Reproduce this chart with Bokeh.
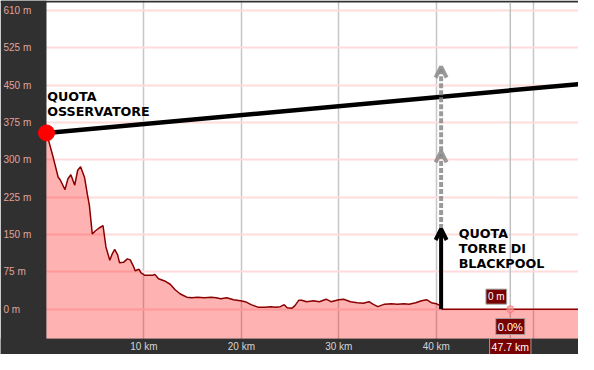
from bokeh.plotting import figure
from bokeh.models import Range1d, FixedTicker, Label, Arrow, OpenHead, Grid
from bokeh.core.properties import value
from bokeh.embed import file_html
from bokeh.resources import INLINE

# ---------------- data ----------------
dist_km = [0.0, 0.2, 0.7, 1.2, 1.4, 1.9, 2.2, 2.5, 2.9, 3.2,
           3.5, 3.9, 4.2, 4.4, 4.7, 5.0, 5.4, 5.8, 6.1, 6.5,
           6.7, 7.0, 7.3, 7.5, 7.9, 8.3, 8.6, 8.9, 9.1, 9.5,
           9.7, 10.1, 10.9, 11.1, 11.5, 12.2, 12.7, 13.2, 13.7, 14.0,
           14.4, 14.9, 15.5, 16.2, 16.9, 17.4, 17.9, 18.5, 19.2, 19.9,
           20.4, 21.0, 21.7, 22.4, 23.0, 23.5, 24.0, 24.4, 24.7, 25.2,
           25.5, 25.9, 26.2, 26.7, 27.4, 28.0, 28.7, 29.2, 30.0, 30.5,
           31.2, 31.9, 32.5, 33.1, 33.5, 34.0, 34.7, 35.4, 36.0, 36.7,
           37.2, 37.9, 38.5, 39.0, 39.5, 40.0, 40.4, 40.6, 54.6]
elev_m = [354, 340, 304, 265, 260, 240, 262, 270, 249, 279,
          286, 265, 230, 209, 151, 157, 163, 168, 125, 98,
          109, 120, 109, 93, 94, 101, 99, 87, 77, 80,
          73, 68, 68, 70, 61, 56, 50, 39, 31, 28,
          24, 23, 24, 23, 24, 23, 21, 23, 19, 17,
          15, 9, 4, 4, 5, 4, 5, 9, 3, 2,
          7, 18, 18, 15, 17, 15, 20, 15, 19, 20,
          15, 13, 12, 15, 10, 5, 10, 11, 10, 11,
          10, 13, 17, 19, 13, 11, 7, 0, 0]

y_ticks = [0, 75, 150, 225, 300, 375, 450, 525, 600]
y_tick_labels = ["0 m", "75 m", "150 m", "225 m", "300 m", "375 m", "450 m", "525 m", "610 m"]
x_label_ticks = [10, 20, 30, 40]
x_tick_labels = ["10 km", "20 km", "30 km", "40 km"]
x_grid_ticks = [10, 20, 30, 40, 50]

# profile area limits and the dark frame around it
plot_x_min, plot_x_max = 0.0, 54.6
plot_y_min, plot_y_max = -59, 616
x_start, x_end = -4.72, 54.6
y_start, y_end = -91.1, 620

observer_km, observer_m = 0.0, 354
sightline_km = [0.0, 54.6]
sightline_m = [354, 452]

tower_km = 40.5
tower_base_m = 0
tower_top_m = 161
dashed_mid_m = 317
dashed_top_m = 487

cursor_km = 47.6
cursor_elev_m = 0
cursor_elev_text = "0 m"
cursor_grade_text = "0.0%"
cursor_dist_text = "47.7 km"

observer_text = "QUOTA\nOSSERVATORE"
tower_text = "QUOTA\nTORRE DI\nBLACKPOOL"

dark = "#303030"

# ---------------- figure ----------------
p = figure(width=578, height=354, output_backend="svg", toolbar_location=None,
           x_range=Range1d(x_start, x_end), y_range=Range1d(y_start, y_end),
           x_axis_location=None, y_axis_location=None, min_border=0)
p.background_fill_color = "white"
p.border_fill_color = dark
p.outline_line_color = None
p.center = [r for r in p.center if not isinstance(r, Grid)]

p.add_layout(Grid(dimension=0, ticker=FixedTicker(ticks=x_grid_ticks),
                  grid_line_color="#c6c6c6", grid_line_width=1.5))
p.add_layout(Grid(dimension=1, ticker=FixedTicker(ticks=y_ticks),
                  grid_line_color="#ffdcdc", grid_line_width=2))

# dark panels (left axis panel, bottom axis bar, top strip)
p.quad(left=[x_start], right=[plot_x_min], bottom=[y_start], top=[y_end],
       fill_color=dark, line_color=None)
p.quad(left=[x_start], right=[x_end], bottom=[y_start], top=[plot_y_min],
       fill_color=dark, line_color=None)
p.quad(left=[x_start], right=[x_end], bottom=[plot_y_max], top=[y_end],
       fill_color=dark, line_color=None)

# tick labels
p.text(x=[x_start] * len(y_ticks), y=y_ticks, text=y_tick_labels, x_offset=3,
       text_align="left", text_baseline="middle", text_color="#e0a39c",
       text_font=value("Liberation Sans"), text_font_size="10px")
p.text(x=x_label_ticks, y=[(y_start + plot_y_min) / 2] * len(x_label_ticks), text=x_tick_labels,
       text_align="center", text_baseline="middle", text_color="#d4d4d4",
       text_font=value("Liberation Sans"), text_font_size="10px")

# crosshair
p.segment(x0=[cursor_km], y0=[plot_y_min], x1=[cursor_km], y1=[plot_y_max],
          line_color="#c0c0c0", line_width=1.5)

# profile
p.varea(x=dist_km, y1=plot_y_min, y2=elev_m, fill_color="#ff0000", fill_alpha=0.3)
p.line(dist_km, elev_m, line_color="#8b0000", line_width=1.5)

# line of sight
p.line(sightline_km, sightline_m, line_color="black", line_width=4.5)
p.scatter([observer_km], [observer_m], size=16, fill_color="#ff0000", line_color="#ff0000")

# tower arrows
p.add_layout(Arrow(end=OpenHead(size=11, line_width=4, line_color="#888888", line_alpha=0.85),
                   x_start=tower_km, y_start=dashed_mid_m, x_end=tower_km, y_end=dashed_top_m,
                   line_color="#888888", line_alpha=0.85, line_width=4, line_dash="5 2"))
p.add_layout(Arrow(end=OpenHead(size=11, line_width=4, line_color="#888888", line_alpha=0.85),
                   x_start=tower_km, y_start=tower_top_m, x_end=tower_km, y_end=dashed_mid_m,
                   line_color="#888888", line_alpha=0.85, line_width=4, line_dash="5 2"))
p.add_layout(Arrow(end=OpenHead(size=11, line_width=4, line_color="black"),
                   x_start=tower_km, y_start=tower_base_m, x_end=tower_km, y_end=tower_top_m,
                   line_color="black", line_width=4))

# annotation texts
p.text(x=[0.07], y=[442], text=[observer_text], text_font=value("DejaVu Sans"),
       text_font_style="bold", text_font_size="12.7px", text_baseline="top",
       text_align="left", text_line_height=1.0, text_color="black")
p.text(x=[42.3], y=[167], text=[tower_text], text_font=value("DejaVu Sans"),
       text_font_style="bold", text_font_size="12.7px", text_baseline="top",
       text_align="left", text_line_height=1.0, text_color="black")

# cursor marker and tooltips
p.scatter([cursor_km], [cursor_elev_m], size=7, fill_color="#ff9a9a", fill_alpha=0.7,
          line_color="#ff6a6a", line_alpha=0.7)
box_style = dict(text_color="white", text_font="Liberation Sans", text_align="center",
                 background_fill_color="#780000", border_line_color="#a0a0a0",
                 border_line_width=1, padding=2)
p.add_layout(Label(x=cursor_km, y=cursor_elev_m, x_offset=-14, y_offset=5,
                   text=cursor_elev_text, text_baseline="bottom", text_font_size="10px", **box_style))
p.add_layout(Label(x=cursor_km, y=plot_y_min, y_offset=4, text=cursor_grade_text,
                   text_baseline="bottom", text_font_size="11px", **box_style))
p.add_layout(Label(x=cursor_km, y=(y_start + plot_y_min) / 2, text=cursor_dist_text,
                   text_baseline="middle", text_font_size="10.5px", **box_style))

open("out.html", "w").write(file_html(p, INLINE))
